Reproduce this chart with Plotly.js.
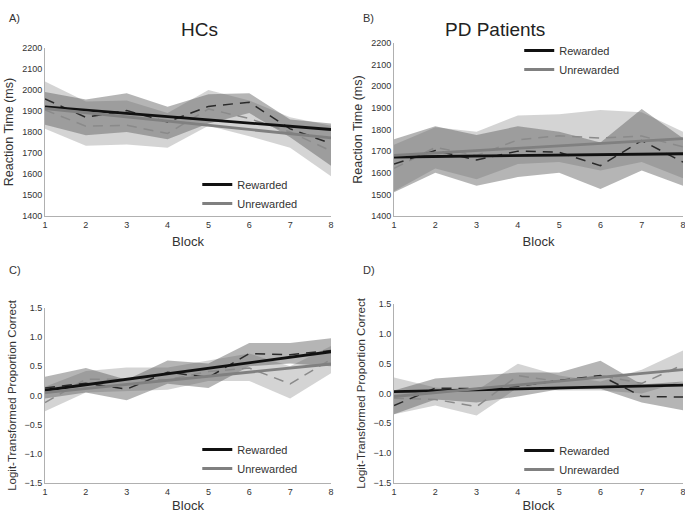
<!DOCTYPE html>
<html>
<head>
<meta charset="utf-8">
<script src="https://cdn.plot.ly/plotly-3.0.1.min.js"></script>
<style>
  html, body { margin: 0; padding: 0; background: #fff; }
  #chart { width: 685px; height: 513px; }
</style>
</head>
<body>
<div id="chart"></div>
<script>
const blocks = [1, 2, 3, 4, 5, 6, 7, 8];
const fitX = [1, 8];

// A) HCs reaction time
const hcRtRew = [1958, 1870, 1902, 1848, 1922, 1942, 1815, 1745];
const hcRtRewLo = [1835, 1785, 1800, 1765, 1840, 1890, 1775, 1640];
const hcRtRewHi = [1990, 1955, 1985, 1920, 1980, 1985, 1860, 1840];
const hcRtUnr = [1905, 1828, 1832, 1793, 1910, 1864, 1800, 1710];
const hcRtUnrLo = [1815, 1735, 1740, 1725, 1830, 1780, 1725, 1590];
const hcRtUnrHi = [2040, 1945, 1950, 1890, 2000, 1950, 1870, 1830];
const hcRtRewFit = [1920, 1812];
const hcRtUnrFit = [1912, 1772];

// B) PD patients reaction time
const pdRtRew = [1640, 1703, 1659, 1700, 1695, 1633, 1749, 1649];
const pdRtRewLo = [1510, 1600, 1540, 1580, 1600, 1525, 1610, 1540];
const pdRtRewHi = [1755, 1815, 1775, 1815, 1790, 1740, 1895, 1760];
const pdRtUnr = [1620, 1717, 1680, 1752, 1771, 1760, 1770, 1720];
const pdRtUnrLo = [1515, 1620, 1570, 1640, 1650, 1610, 1650, 1575];
const pdRtUnrHi = [1730, 1810, 1790, 1865, 1870, 1890, 1880, 1790];
const pdRtRewFit = [1673, 1688];
const pdRtUnrFit = [1680, 1758];

// C) HCs accuracy
const hcAccRew = [0.13, 0.21, 0.11, 0.40, 0.31, 0.72, 0.70, 0.77];
const hcAccRewLo = [-0.05, 0.05, -0.08, 0.20, 0.13, 0.50, 0.55, 0.50];
const hcAccRewHi = [0.32, 0.47, 0.27, 0.60, 0.55, 0.90, 0.90, 0.98];
const hcAccUnr = [-0.12, 0.28, 0.28, 0.27, 0.41, 0.47, 0.20, 0.62];
const hcAccUnrLo = [-0.27, 0.05, 0.08, 0.10, 0.25, 0.25, -0.05, 0.38];
const hcAccUnrHi = [0.15, 0.42, 0.48, 0.48, 0.60, 0.72, 0.50, 0.85];
const hcAccRewFit = [0.09, 0.75];
const hcAccUnrFit = [0.05, 0.54];

// D) PD patients accuracy
const pdAccRew = [-0.20, 0.09, 0.08, 0.12, 0.22, 0.30, -0.05, -0.06];
const pdAccRewLo = [-0.35, -0.10, -0.15, -0.05, 0.07, 0.08, -0.15, -0.28];
const pdAccRewHi = [0.05, 0.25, 0.30, 0.35, 0.35, 0.55, 0.15, 0.20];
const pdAccUnr = [-0.08, -0.10, -0.22, 0.30, 0.20, 0.30, 0.17, 0.48];
const pdAccUnrLo = [-0.35, -0.20, -0.37, 0.10, 0.05, 0.05, 0.00, 0.20];
const pdAccUnrHi = [0.27, 0.10, 0.05, 0.50, 0.30, 0.20, 0.40, 0.72];
const pdAccRewFit = [0.03, 0.14];
const pdAccUnrFit = [-0.05, 0.40];

const fontMain = 'Liberation Sans, Arial, sans-serif';
const fontTick = 'Liberation Sans Narrow, Liberation Sans, Arial, sans-serif';

function band(xa, ya, lo, hi, color) {
    return {
        x: blocks.concat(blocks.slice().reverse()),
        y: hi.concat(lo.slice().reverse()),
        xaxis: xa, yaxis: ya,
        type: 'scatter', mode: 'lines',
        fill: 'toself', fillcolor: color,
        line: { width: 0 },
        hoverinfo: 'skip', showlegend: false
    };
}

function dashed(xa, ya, y, color) {
    return {
        x: blocks, y: y, xaxis: xa, yaxis: ya,
        type: 'scatter', mode: 'lines',
        line: { color: color, width: 1.5, dash: '10px,7px' },
        showlegend: false
    };
}

function fit(xa, ya, y, color, name, legend) {
    return {
        x: fitX, y: y, xaxis: xa, yaxis: ya,
        type: 'scatter', mode: 'lines', name: name,
        line: { color: color, width: 2.8 },
        legend: legend
    };
}

function panel(xa, ya, legend, s) {
    return [
        band(xa, ya, s.unrLo, s.unrHi, 'rgba(160,160,160,0.45)'),
        band(xa, ya, s.rewLo, s.rewHi, 'rgba(90,90,90,0.45)'),
        dashed(xa, ya, s.unr, '#8a8a8a'),
        dashed(xa, ya, s.rew, '#2a2a2a'),
        fit(xa, ya, s.rewFit, '#111111', 'Rewarded', legend),
        fit(xa, ya, s.unrFit, '#808080', 'Unrewarded', legend)
    ];
}

const data = [].concat(
    panel('x', 'y', 'legend', { rew: hcRtRew, rewLo: hcRtRewLo, rewHi: hcRtRewHi, unr: hcRtUnr, unrLo: hcRtUnrLo, unrHi: hcRtUnrHi, rewFit: hcRtRewFit, unrFit: hcRtUnrFit }),
    panel('x2', 'y2', 'legend2', { rew: pdRtRew, rewLo: pdRtRewLo, rewHi: pdRtRewHi, unr: pdRtUnr, unrLo: pdRtUnrLo, unrHi: pdRtUnrHi, rewFit: pdRtRewFit, unrFit: pdRtUnrFit }),
    panel('x3', 'y3', 'legend3', { rew: hcAccRew, rewLo: hcAccRewLo, rewHi: hcAccRewHi, unr: hcAccUnr, unrLo: hcAccUnrLo, unrHi: hcAccUnrHi, rewFit: hcAccRewFit, unrFit: hcAccUnrFit }),
    panel('x4', 'y4', 'legend4', { rew: pdAccRew, rewLo: pdAccRewLo, rewHi: pdAccRewHi, unr: pdAccUnr, unrLo: pdAccUnrLo, unrHi: pdAccUnrHi, rewFit: pdAccRewFit, unrFit: pdAccUnrFit })
);

function xAxis(domain, anchor, standoff) {
    return {
        domain: domain, anchor: anchor, range: [1, 8],
        tickvals: blocks, ticks: '', showgrid: false, zeroline: false,
        showline: true, linecolor: '#b0b0b0', linewidth: 1,
        ticklabeloverflow: 'allow',
        tickfont: { family: fontTick, size: 9, color: '#333' },
        title: { text: 'Block', font: { family: fontMain, size: 13, color: '#333' }, standoff: standoff }
    };
}

function yAxis(domain, anchor, range, dtick, fmt, title, size) {
    return {
        domain: domain, anchor: anchor, range: range,
        dtick: dtick, tick0: range[0], tickformat: fmt,
        ticks: '', showgrid: false, zeroline: false,
        showline: true, linecolor: '#b0b0b0', linewidth: 1,
        tickfont: { family: fontTick, size: 9, color: '#333' },
        title: { text: title, font: { family: fontMain, size: size, color: '#333' }, standoff: 5 }
    };
}

function legendAt(x, y) {
    return {
        x: x, y: y, xanchor: 'left', yanchor: 'top',
        bgcolor: 'rgba(0,0,0,0)', borderwidth: 0,
        font: { family: fontMain, size: 11, color: '#333' },
        tracegroupgap: 0
    };
}

const layout = {
    width: 685, height: 513,
    margin: { l: 0, r: 0, t: 0, b: 0 },
    paper_bgcolor: '#fff', plot_bgcolor: '#fff',
    showlegend: true,
    xaxis: xAxis([0.0657, 0.4832], 'y', 8),
    yaxis: yAxis([0.5789, 0.9064], 'x', [1400, 2200], 100, 'd', 'Reaction Time (ms)', 12.5),
    xaxis2: xAxis([0.5752, 0.9971], 'y2', 8),
    yaxis2: yAxis([0.5789, 0.9162], 'x2', [1400, 2200], 100, 'd', 'Reaction Time (ms)', 12.5),
    xaxis3: xAxis([0.0657, 0.4832], 'y3', 5),
    yaxis3: yAxis([0.0585, 0.3996], 'x3', [-1.5, 1.5], 0.5, '.1f', 'Logit-Transformed Proportion Correct', 11.5),
    xaxis4: xAxis([0.5752, 0.9971], 'y4', 5),
    yaxis4: yAxis([0.0585, 0.4074], 'x4', [-1.5, 1.5], 0.5, '.1f', 'Logit-Transformed Proportion Correct', 11.5),
    legend: legendAt(0.288, 1 - 170 / 513),
    legend2: legendAt(0.758, 1 - 36 / 513),
    legend3: legendAt(0.288, 1 - 435 / 513),
    legend4: legendAt(0.758, 1 - 436 / 513),
    annotations: [
        { text: 'HCs', x: 179 / 685, y: 1 - 17 / 513, xref: 'paper', yref: 'paper', showarrow: false, font: { family: fontMain, size: 19, color: '#222' } },
        { text: 'PD Patients', x: 547 / 685, y: 1 - 17 / 513, xref: 'paper', yref: 'paper', showarrow: false, font: { family: fontMain, size: 19, color: '#222' } },
        { text: 'A)', x: 7 / 685, y: 1 - 10 / 513, xref: 'paper', yref: 'paper', xanchor: 'left', showarrow: false, font: { family: fontMain, size: 11, color: '#333' } },
        { text: 'B)', x: 361 / 685, y: 1 - 10 / 513, xref: 'paper', yref: 'paper', xanchor: 'left', showarrow: false, font: { family: fontMain, size: 11, color: '#333' } },
        { text: 'C)', x: 7 / 685, y: 1 - 270 / 513, xref: 'paper', yref: 'paper', xanchor: 'left', showarrow: false, font: { family: fontMain, size: 11, color: '#333' } },
        { text: 'D)', x: 361 / 685, y: 1 - 270 / 513, xref: 'paper', yref: 'paper', xanchor: 'left', showarrow: false, font: { family: fontMain, size: 11, color: '#333' } }
    ]
};

Plotly.newPlot('chart', data, layout, { displayModeBar: false, staticPlot: true });
</script>
</body>
</html>
